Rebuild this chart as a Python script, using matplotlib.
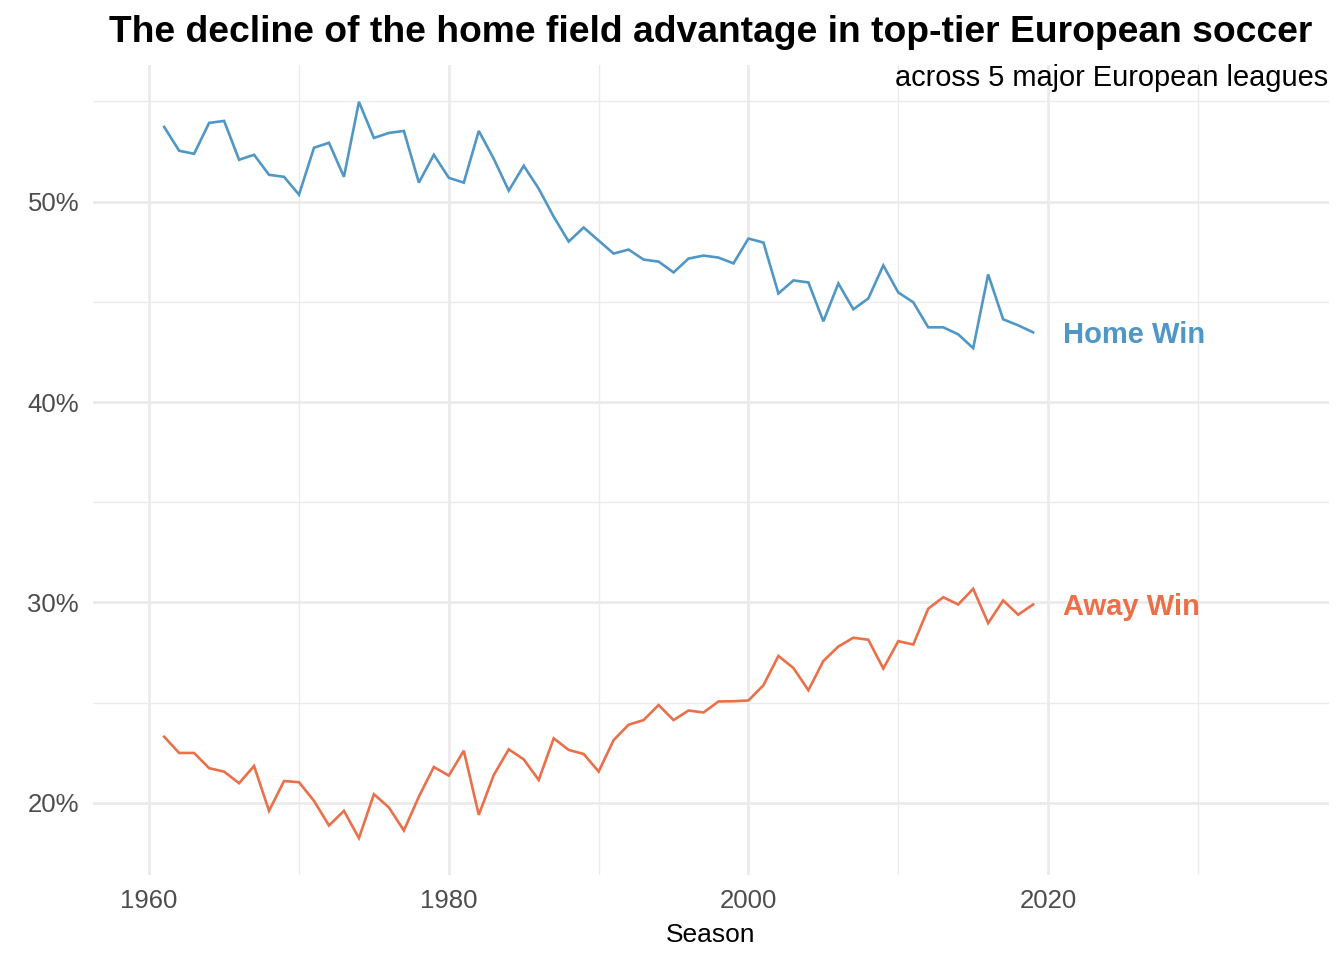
import matplotlib
matplotlib.use("Agg")
import matplotlib.pyplot as plt
from matplotlib.ticker import FixedLocator, FuncFormatter

plt.rcParams["font.family"] = ["Liberation Sans", "DejaVu Sans"]

# share of matches won, per season, across 5 major European leagues (%)
seasons = list(range(1961, 2020))
home_win = [53.73, 52.54, 52.39, 53.93, 54.03, 52.09, 52.34, 51.34, 51.24, 50.35,
            52.69, 52.94, 51.24, 54.98, 53.18, 53.43, 53.53, 50.95, 52.34, 51.19,
            50.95, 53.53, 52.14, 50.55, 51.79, 50.65, 49.25, 48.01, 48.71, 48.06,
            47.41, 47.61, 47.11, 47.01, 46.47, 47.16, 47.31, 47.21, 46.92, 48.16,
            47.96, 45.42, 46.07, 45.97, 44.03, 45.92, 44.63, 45.17, 46.82, 45.47,
            44.98, 43.73, 43.73, 43.38, 42.69, 46.37, 44.13, 43.83, 43.48]
away_win = [23.30, 22.49, 22.49, 21.73, 21.56, 20.98, 21.84, 19.60, 21.09, 21.03,
            20.10, 18.87, 19.60, 18.24, 20.43, 19.77, 18.62, 20.31, 21.79, 21.36,
            22.60, 19.40, 21.39, 22.67, 22.17, 21.14, 23.22, 22.64, 22.44, 21.56,
            23.13, 23.90, 24.13, 24.88, 24.13, 24.61, 24.51, 25.06, 25.07, 25.11,
            25.87, 27.33, 26.73, 25.62, 27.08, 27.80, 28.24, 28.14, 26.70, 28.07,
            27.90, 29.69, 30.26, 29.90, 30.68, 28.97, 30.10, 29.39, 29.90]

series_names = ["Home Win", "Away Win"]
series_colors = ["#5097C5", "#EB6F48"]

x_major = [1960, 1980, 2000, 2020]
x_minor = [1970, 1990, 2010, 2030]
y_major = [20, 30, 40, 50]
y_minor = [25, 35, 45, 55]

W, H = 1344, 960
fig = plt.figure(figsize=(W / 100, H / 100), dpi=100)
ax = fig.add_axes([93 / W, 1 - 875 / H, (1329 - 93) / W, (875 - 65) / H])

grid = "#EBEBEB"
for v in x_major:
    ax.axvline(v, color=grid, lw=2.0, zorder=0)
for v in x_minor:
    ax.axvline(v, color=grid, lw=1.0, zorder=0)
for v in y_major:
    ax.axhline(v, color=grid, lw=2.0, zorder=0)
for v in y_minor:
    ax.axhline(v, color=grid, lw=1.0, zorder=0)

for vals, name, col in zip([home_win, away_win], series_names, series_colors):
    ax.plot(seasons, vals, color=col, lw=1.9, solid_joinstyle="miter", zorder=3)
    ax.text(2021, vals[-1], name, color=col, fontsize=21, fontweight="bold",
            ha="left", va="center_baseline")

ax.set_xlim(1956.25, 2038.75)
ax.set_ylim(16.40, 56.82)
ax.xaxis.set_major_locator(FixedLocator(x_major))
ax.yaxis.set_major_locator(FixedLocator(y_major))
ax.yaxis.set_major_formatter(FuncFormatter(lambda v, p: f"{v:.0f}%"))
ax.tick_params(length=0, labelsize=18.5, labelcolor="#4D4D4D")
ax.tick_params(axis="x", pad=10)
ax.tick_params(axis="y", pad=10)
for s in ax.spines.values():
    s.set_visible(False)
ax.set_xlabel("Season", fontsize=19, color="black", labelpad=7)

fig.text(711 / W, 1 - 32 / H,
         "The decline of the home field advantage in top-tier European soccer",
         fontsize=26.8, fontweight="bold", ha="center", va="center")
fig.text(1328 / W, 1 - 78 / H, "across 5 major European leagues",
         fontsize=20.9, ha="right", va="center")

fig.savefig("out.png", dpi=100)
